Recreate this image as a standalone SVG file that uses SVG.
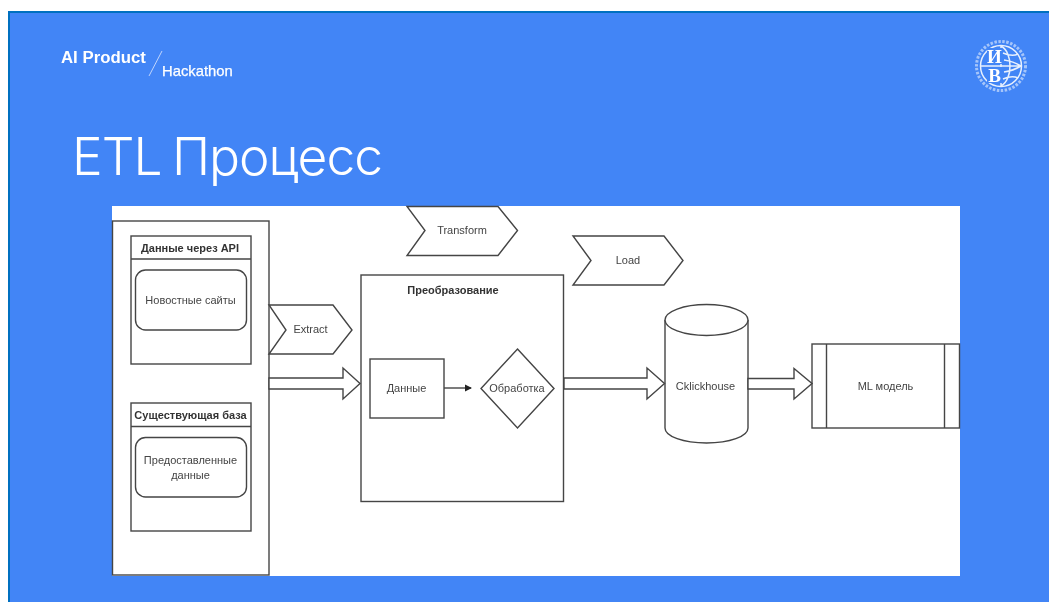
<svg xmlns="http://www.w3.org/2000/svg" width="1049" height="602" viewBox="0 0 1049 602">
<style>
.s{fill:#fff;stroke:#444;stroke-width:1.4}
.n{fill:none;stroke:#444;stroke-width:1.4}
text{font-family:"Liberation Sans",Arial,sans-serif}
.t{font-size:11px;fill:#444;text-anchor:middle}
.b{font-size:11px;font-weight:700;fill:#333;text-anchor:middle}
.w{fill:#fff}
.g{fill:none;stroke:#e8f0fd;stroke-width:1.5}
</style>
<defs>
<filter id="soft" x="-5%" y="-5%" width="110%" height="110%"><feGaussianBlur stdDeviation="0.45"/></filter>
<marker id="ah" markerUnits="userSpaceOnUse" markerWidth="8" markerHeight="8" refX="6" refY="4" orient="auto"><path d="M0 0.5L7 4L0 7.5Z" fill="#222"/></marker>
</defs>
<rect width="1049" height="602" fill="#fff"/>
<rect x="8" y="11" width="1041" height="591" fill="#0070c0"/>
<rect x="10" y="13" width="1039" height="589" fill="#4285f6"/>
<g filter="url(#soft)">
<g id="header">
<text class="w" x="61" y="63" font-size="16.800" font-weight="700">AI Product</text>
<path d="M149 76L162 51" stroke="#dfe9fc" stroke-width="0.8" fill="none"/>
<text class="w" x="162" y="76" font-size="14.800" stroke="#fff" stroke-width="0.25">Hackathon</text>
<text id="title" class="w" x="72" y="175" font-size="51.500" letter-spacing="-1" word-spacing="-3" style="font-family:Inter,'Liberation Sans',sans-serif;font-weight:300">ETL Процесс</text>
</g>
<g id="logo">
<circle class="g" cx="1001" cy="66" r="24.500" stroke-dasharray="2.500 1.500" style="stroke-width:3" opacity="0.6"/>
<circle class="g" cx="1001" cy="66" r="20.500"/>
<path class="g" d="M1001 46C1013 52 1013 80 1001 86M1001 46V86M1003 53C1010 56 1014 56 1018 54M1003 79C1010 76 1014 76 1018 78M1004 60C1011 61 1016 63 1021 66M1004 72C1011 71 1016 69 1021 66M981 66H1021"/>
<rect x="987" y="48" width="15" height="16" fill="#4285f6"/>
<rect x="987" y="67" width="15" height="16" fill="#4285f6"/>
<text class="w" x="994.500" y="63" font-size="19" font-weight="700" text-anchor="middle" style="font-family:'Liberation Serif',serif">И</text>
<text class="w" x="994.500" y="82" font-size="19" font-weight="700" text-anchor="middle" style="font-family:'Liberation Serif',serif">В</text>
</g>
<rect id="panel" x="112" y="206" width="848" height="370" fill="#fff"/>
<g id="sources">
<rect class="s" x="112.500" y="221" width="156.500" height="354"/>
</g>
<g id="api">
<rect class="s" x="131" y="236" width="120" height="128"/>
<path class="n" d="M131 259H251"/>
<text class="b" x="190" y="252">Данные через API</text>
</g>
<g id="news">
<rect class="s" x="135.500" y="270" width="111" height="60" rx="10"/>
<text class="t" x="190.500" y="304">Новостные сайты</text>
</g>
<g id="base">
<rect class="s" x="131" y="403" width="120" height="128"/>
<path class="n" d="M131 426.500H251"/>
<text class="b" x="190.500" y="419">Существующая база</text>
</g>
<g id="provided">
<rect class="s" x="135.500" y="437.500" width="111" height="59.500" rx="10"/>
<text class="t" x="190.500" y="464">Предоставленные</text>
<text class="t" x="190.500" y="479">данные</text>
</g>
<g id="extract">
<path class="s" d="M269 305H333L352 330L333 354H269L286 330Z"/>
<text class="t" x="310.500" y="333">Extract</text>
</g>
<g id="transform">
<path class="s" d="M407 206.500H498L517.500 230.500L498 255.500H407L425 230.500Z"/>
<text class="t" x="462" y="234">Transform</text>
</g>
<g id="load">
<path class="s" d="M573 236H664L683 260.500L664 285H573L591 260.500Z"/>
<text class="t" x="628" y="264">Load</text>
</g>
<g id="process">
<rect class="s" x="361" y="275" width="202.500" height="226.500"/>
<text class="b" x="453" y="294">Преобразование</text>
</g>
<g id="data">
<rect class="s" x="370" y="359" width="74" height="59"/>
<text class="t" x="406.500" y="392">Данные</text>
</g>
<g id="processing">
<path class="s" d="M517.500 349L554 388.500L517.500 428L481 388.500Z"/>
<text class="t" x="517" y="392">Обработка</text>
</g>
<g id="clickhouse">
<path class="s" d="M665 320V428C665 436.500 683.500 443 706.500 443S748 436.500 748 428V320"/>
<ellipse class="s" cx="706.500" cy="320" rx="41.500" ry="15.500"/>
<text class="t" x="705.500" y="390">Cklickhouse</text>
</g>
<g id="ml">
<rect class="s" x="812" y="344" width="147.500" height="84"/>
<path class="n" d="M826.500 344V428M944.500 344V428"/>
<text class="t" x="885.500" y="390">ML модель</text>
</g>
<g id="connectors">
<path class="s" d="M269 378H343V368L360 383.500L343 399V389H269Z"/>
<path class="s" d="M564 378H647V368L664.500 383.500L647 399V389H564Z"/>
<path class="s" d="M748 378.500H794V368.500L812 383.500L794 399V389H748Z"/>
<path class="n" d="M444 388H471" marker-end="url(#ah)"/>
</g>
</g>
</svg>
